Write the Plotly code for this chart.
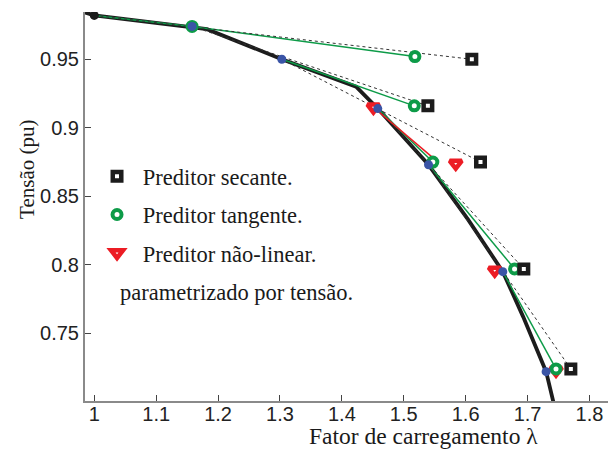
import plotly.graph_objects as go

# ---- data ----
lam_curve = [0.985, 1.0, 1.182, 1.303, 1.423, 1.458, 1.540, 1.604, 1.660, 1.693, 1.730, 1.747]
v_curve = [0.9842, 0.982, 0.972, 0.950, 0.930, 0.914, 0.873, 0.833, 0.795, 0.762, 0.722, 0.690]

lam_init = [1.0]
v_init = [0.982]

lam_corr = [1.158, 1.303, 1.458, 1.540, 1.660, 1.730]
v_corr = [0.974, 0.950, 0.914, 0.873, 0.795, 0.722]

lam_sec = [1.610, 1.539, 1.624, 1.694, 1.770]
v_sec = [0.950, 0.916, 0.875, 0.797, 0.724]

lam_tan = [1.158, 1.518, 1.517, 1.547, 1.679, 1.746]
v_tan = [0.974, 0.952, 0.916, 0.875, 0.797, 0.724]

lam_nl = [1.451, 1.584, 1.647, 1.746]
v_nl = [0.915, 0.874, 0.796, 0.723]

lam_nl_path = [1.451, 1.545]
v_nl_path = [0.915, 0.879]

x_ticks = [1.0, 1.1, 1.2, 1.3, 1.4, 1.5, 1.6, 1.7, 1.8]
y_ticks = [0.75, 0.80, 0.85, 0.90, 0.95]

leg_labels = ["Preditor secante.", "Preditor tangente.", "Preditor não-linear."]
note_text = "parametrizado por tensão."
x_title = "Fator de carregamento λ"
y_title = "Tensão (pu)"

# ---- styles ----
GREEN = "#0d9b48"
RED = "#ec1c24"
BLUE = "#3a54a6"
BLACK = "#1c1c1c"
SERIF = "Liberation Serif"
SANS = "Liberation Sans"

P_lam = lam_init + lam_corr
P_v = v_init + v_corr


def segments(x0, y0, x1, y1):
    xs, ys = [], []
    for a, b, c, d in zip(x0, y0, x1, y1):
        xs += [a, c, None]
        ys += [b, d, None]
    return xs, ys


fig = go.Figure()

# exact PV curve
fig.add_trace(go.Scatter(x=lam_curve, y=v_curve, mode="lines",
                         line=dict(color=BLACK, width=3.8), showlegend=False,
                         hoverinfo="skip"))
# tangent predictor lines
tx, ty = segments(P_lam, P_v, lam_tan, v_tan)
fig.add_trace(go.Scatter(x=tx, y=ty, mode="lines",
                         line=dict(color=GREEN, width=1.5), showlegend=False))
# secant predictor lines
sx, sy = segments(P_lam, P_v, lam_sec, v_sec)
fig.add_trace(go.Scatter(x=sx, y=sy, mode="lines",
                         line=dict(color="#333333", width=1, dash="dot"), showlegend=False))
# non-linear predictor path
fig.add_trace(go.Scatter(x=lam_nl_path, y=v_nl_path, mode="lines",
                         line=dict(color=RED, width=1.5), showlegend=False))

# predictor markers
fig.add_trace(go.Scatter(x=lam_nl, y=v_nl, mode="markers", name="\u00a0" + leg_labels[2],
                         legendgroup="c", legendrank=3,
                         marker=dict(symbol="triangle-down", size=10.5, color="white",
                                     line=dict(color=RED, width=4.5))))
fig.add_trace(go.Scatter(x=lam_tan, y=v_tan, mode="markers", name="\u00a0" + leg_labels[1],
                         legendgroup="b", legendrank=2,
                         marker=dict(symbol="circle", size=9, color="white",
                                     line=dict(color=GREEN, width=4))))
fig.add_trace(go.Scatter(x=lam_sec, y=v_sec, mode="markers", name="\u00a0" + leg_labels[0],
                         legendgroup="a", legendrank=1,
                         marker=dict(symbol="square", size=8.5, color="white",
                                     line=dict(color=BLACK, width=4.5))))
# corrected points
fig.add_trace(go.Scatter(x=lam_corr, y=v_corr, mode="markers", showlegend=False,
                         marker=dict(symbol="circle", size=9, color=BLUE)))
fig.add_trace(go.Scatter(x=lam_init, y=v_init, mode="markers", showlegend=False,
                         marker=dict(symbol="circle", size=9, color=BLACK)))

axis_common = dict(showline=True, linecolor="#8a8a8a", linewidth=2, ticks="inside",
                   ticklen=6, tickwidth=1, tickcolor="#444444", showgrid=False,
                   zeroline=False, mirror=False,
                   tickfont=dict(family=SANS, size=20, color="#222222"))

fig.update_layout(
    width=608, height=458,
    margin=dict(l=85, r=0, t=12, b=57),
    paper_bgcolor="white", plot_bgcolor="white",
    xaxis=dict(range=[0.985, 1.83], tickvals=x_ticks, ticktext=[f"{v:g}" for v in x_ticks],
               ticklabelstandoff=-6, **axis_common),
    yaxis=dict(range=[0.7006, 0.9845], tickvals=y_ticks, ticktext=[f"{v:g}" for v in y_ticks],
               **axis_common),
    legend=dict(x=0.023, y=0.632, xanchor="left", yanchor="top",
                traceorder="grouped", tracegroupgap=6,
                font=dict(family=SERIF, size=22.5, color="#1a1a1a"),
                bgcolor="rgba(0,0,0,0)"),
    annotations=[
        dict(text=x_title, xref="paper", yref="paper", x=0.648, y=0, yshift=-35,
             xanchor="center", yanchor="middle", showarrow=False,
             font=dict(family=SERIF, size=23.5, color="#1a1a1a")),
        dict(text=y_title, xref="paper", yref="paper", x=0, y=0.594, xshift=-58,
             xanchor="center", yanchor="middle", textangle=-90, showarrow=False,
             font=dict(family=SERIF, size=21, color="#1a1a1a")),
        dict(text=note_text, xref="paper", yref="paper", x=0.063, y=0.278,
             xanchor="left", yanchor="middle", showarrow=False,
             font=dict(family=SERIF, size=22.5, color="#1a1a1a")),
    ],
)

fig.write_html("out.html")
